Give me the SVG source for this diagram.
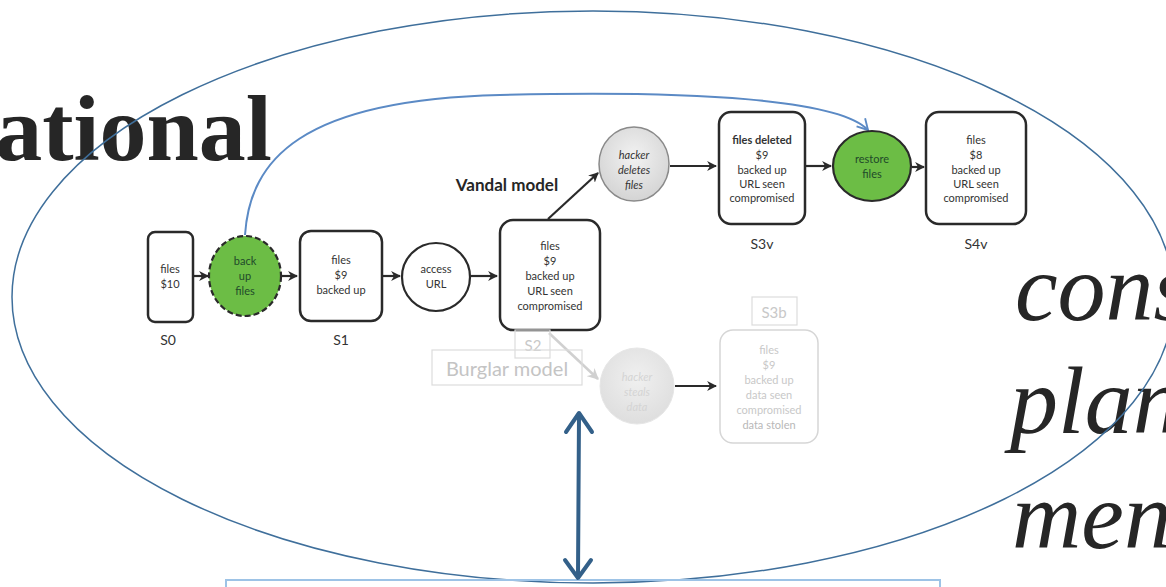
<svg xmlns="http://www.w3.org/2000/svg" width="1166" height="587" viewBox="0 0 1166 587">
<defs>
<style>
.t{font-family:Lato,"Open Sans","Liberation Sans",sans-serif;font-size:11px;fill:#333;text-anchor:middle}
.lb{font-family:Lato,"Open Sans","Liberation Sans",sans-serif;font-size:14px;fill:#333;text-anchor:middle}
.st{fill:#fff;stroke:#2a2a2a;stroke-width:2.5}
.faint{fill:#fff;stroke:#d6d6d6;stroke-width:1.5}
.ft{font-family:Lato,"Open Sans","Liberation Sans",sans-serif;font-size:11px;fill:#c8c8c8;text-anchor:middle}
.con{stroke:#2a2a2a;stroke-width:2.2;fill:none;marker-end:url(#ah)}
.big{font-family:"Liberation Serif","Times New Roman",serif;font-size:96px;font-style:italic;fill:#262626}
</style>
<marker id="ah" viewBox="0 0 10 10" refX="9" refY="5" markerWidth="4.5" markerHeight="4.5" orient="auto" markerUnits="strokeWidth">
<path d="M0,0 L10,5 L0,10 L3,5 z" fill="#2a2a2a"/>
</marker>
<marker id="ahg" viewBox="0 0 10 10" refX="9" refY="5" markerWidth="4.5" markerHeight="4.5" orient="auto" markerUnits="strokeWidth">
<path d="M0,0 L10,5 L0,10 L3,5 z" fill="#d0d0d0"/>
</marker>
<marker id="ahb" viewBox="0 0 12 12" refX="10" refY="6" markerWidth="7" markerHeight="7" orient="auto" markerUnits="strokeWidth">
<path d="M1,1 L10,6 L1,11" fill="none" stroke="#5b8ac5" stroke-width="1.6"/>
</marker>
<radialGradient id="gray" cx="50%" cy="40%" r="60%">
<stop offset="0" stop-color="#f2f2f2"/><stop offset="1" stop-color="#d4d4d4"/>
</radialGradient>
<radialGradient id="gray2" cx="50%" cy="40%" r="60%">
<stop offset="0" stop-color="#f0f0f0"/><stop offset="1" stop-color="#dedede"/>
</radialGradient>
</defs>
<rect width="1166" height="587" fill="#fff"/>

<!-- background text -->
<text x="272" y="160" text-anchor="end" font-family="'Liberation Serif','Times New Roman',serif" font-size="94" font-weight="bold" fill="#262626">ational</text>
<text class="big" x="1015" y="320">cons</text>
<text class="big" x="1010" y="433">plan</text>
<text class="big" x="1012" y="548">men</text>

<!-- outer ellipse -->
<ellipse cx="593" cy="297" rx="581" ry="286" fill="none" stroke="#3f6f9b" stroke-width="1.5"/>

<!-- bottom box -->
<rect x="226" y="580" width="714" height="20" fill="none" stroke="#9dc3e6" stroke-width="2"/>

<g id="connectors">
<path class="con" d="M194,276 L208,276"/>
<path class="con" d="M281,276 L297,276"/>
<path class="con" d="M383,276 L400,276"/>
<path class="con" d="M471,276 L497,276"/>
<path class="con" d="M548,219 L598,173"/>
<path class="con" d="M670,166 L716,166"/>
<path class="con" d="M806,166 L831,166"/>
<path class="con" d="M912,167 L924,167"/>
<path d="M549,333 L598,379" stroke="#d0d0d0" stroke-width="2.5" fill="none" marker-end="url(#ahg)"/>
<path class="con" d="M675,386 L716,386"/>
<!-- blue backup arc -->
<path d="M245,235 C250,160 300,100 500,95 C700,90 840,100 868,130" fill="none" stroke="#5b8ac5" stroke-width="2" marker-end="url(#ahb)"/>
<!-- big double arrow -->
<g stroke="#336089" stroke-width="4" stroke-linecap="round" stroke-linejoin="round" fill="none">
<path d="M579,415 L578,577"/>
<path d="M566,432 L579,413 L592,432"/>
<path d="M565,560 L578,578 L591,560"/>
</g>
</g>

<g id="S0">
<rect class="st" x="148" y="232" width="45" height="90" rx="7"/>
<text class="t" x="170" y="273">files</text>
<text class="t" x="170" y="288">$10</text>
<text class="lb" x="168" y="345">S0</text>
</g>

<g id="backup">
<ellipse cx="245" cy="276" rx="36" ry="40" fill="#6cbd45" stroke="#2a2a2a" stroke-width="2.2" stroke-dasharray="6,3"/>
<text class="t" x="245" y="265" style="fill:#1f4a2a">back</text>
<text class="t" x="245" y="280" style="fill:#1f4a2a">up</text>
<text class="t" x="245" y="295" style="fill:#1f4a2a">files</text>
</g>

<g id="S1">
<rect class="st" x="300" y="231" width="82" height="90" rx="11"/>
<text class="t" x="341" y="264">files</text>
<text class="t" x="341" y="279">$9</text>
<text class="t" x="341" y="294">backed up</text>
<text class="lb" x="341" y="345">S1</text>
</g>

<g id="access">
<circle cx="436" cy="277" r="34" fill="#fff" stroke="#2a2a2a" stroke-width="2.2"/>
<text class="t" x="436" y="273">access</text>
<text class="t" x="436" y="288">URL</text>
</g>

<g id="S2">
<rect class="st" x="500" y="220" width="100" height="110" rx="13"/>
<text class="t" x="550" y="250">files</text>
<text class="t" x="550" y="265">$9</text>
<text class="t" x="550" y="280">backed up</text>
<text class="t" x="550" y="295">URL seen</text>
<text class="t" x="550" y="310">compromised</text>
<rect x="515" y="330" width="35" height="28" fill="none" stroke="#dcdcdc" stroke-width="1.2"/>
<text class="ft" x="533" y="351" style="font-size:15px">S2</text>
</g>

<g id="vandal">
<text x="507" y="191" font-family="Lato,'Open Sans','Liberation Sans',sans-serif" font-size="17" font-weight="bold" fill="#262626" text-anchor="middle">Vandal model</text>
</g>

<g id="burglar">
<rect x="432" y="350" width="150" height="35" fill="none" stroke="#dcdcdc" stroke-width="1.2"/>
<text x="507" y="376" font-family="Lato,'Open Sans','Liberation Sans',sans-serif" font-size="20" fill="#c4c4c4" text-anchor="middle">Burglar model</text>
</g>

<g id="deletes">
<ellipse cx="634" cy="164" rx="35" ry="37" fill="url(#gray)" stroke="#8a8a8a" stroke-width="1.5"/>
<text class="t" x="634" y="159" font-style="italic">hacker</text>
<text class="t" x="634" y="174" font-style="italic">deletes</text>
<text class="t" x="634" y="189" font-style="italic">files</text>
</g>

<g id="S3v">
<rect class="st" x="719" y="112" width="86" height="112" rx="12"/>
<text class="t" x="762" y="144" font-weight="bold">files deleted</text>
<text class="t" x="762" y="159">$9</text>
<text class="t" x="762" y="174">backed up</text>
<text class="t" x="762" y="188">URL seen</text>
<text class="t" x="762" y="202">compromised</text>
<text class="lb" x="762" y="249">S3v</text>
</g>

<g id="restore">
<ellipse cx="872" cy="166" rx="39" ry="35" fill="#6cbd45" stroke="#2a2a2a" stroke-width="2.2"/>
<text class="t" x="872" y="163" style="fill:#1f4a2a">restore</text>
<text class="t" x="872" y="178" style="fill:#1f4a2a">files</text>
</g>

<g id="S4v">
<rect class="st" x="926" y="112" width="100" height="112" rx="13"/>
<text class="t" x="976" y="144">files</text>
<text class="t" x="976" y="159">$8</text>
<text class="t" x="976" y="174">backed up</text>
<text class="t" x="976" y="188">URL seen</text>
<text class="t" x="976" y="202">compromised</text>
<text class="lb" x="976" y="249">S4v</text>
</g>

<g id="steals">
<ellipse cx="637" cy="386" rx="37" ry="38" fill="url(#gray2)" stroke="#e6e6e6" stroke-width="1"/>
<text class="ft" x="637" y="381" font-style="italic" style="fill:#d4d4d4">hacker</text>
<text class="ft" x="637" y="396" font-style="italic" style="fill:#d4d4d4">steals</text>
<text class="ft" x="637" y="411" font-style="italic" style="fill:#d4d4d4">data</text>
</g>

<g id="S3b">
<rect x="752" y="297" width="45" height="28" fill="none" stroke="#dcdcdc" stroke-width="1.2"/>
<text class="ft" x="774" y="318" style="font-size:15px">S3b</text>
<rect class="faint" x="720" y="330" width="98" height="113" rx="13"/>
<text class="ft" x="769" y="354">files</text>
<text class="ft" x="769" y="369">$9</text>
<text class="ft" x="769" y="384">backed up</text>
<text class="ft" x="769" y="399">data seen</text>
<text class="ft" x="769" y="414">compromised</text>
<text class="ft" x="769" y="429" style="fill:#b8b8b8">data stolen</text>
</g>
</svg>
